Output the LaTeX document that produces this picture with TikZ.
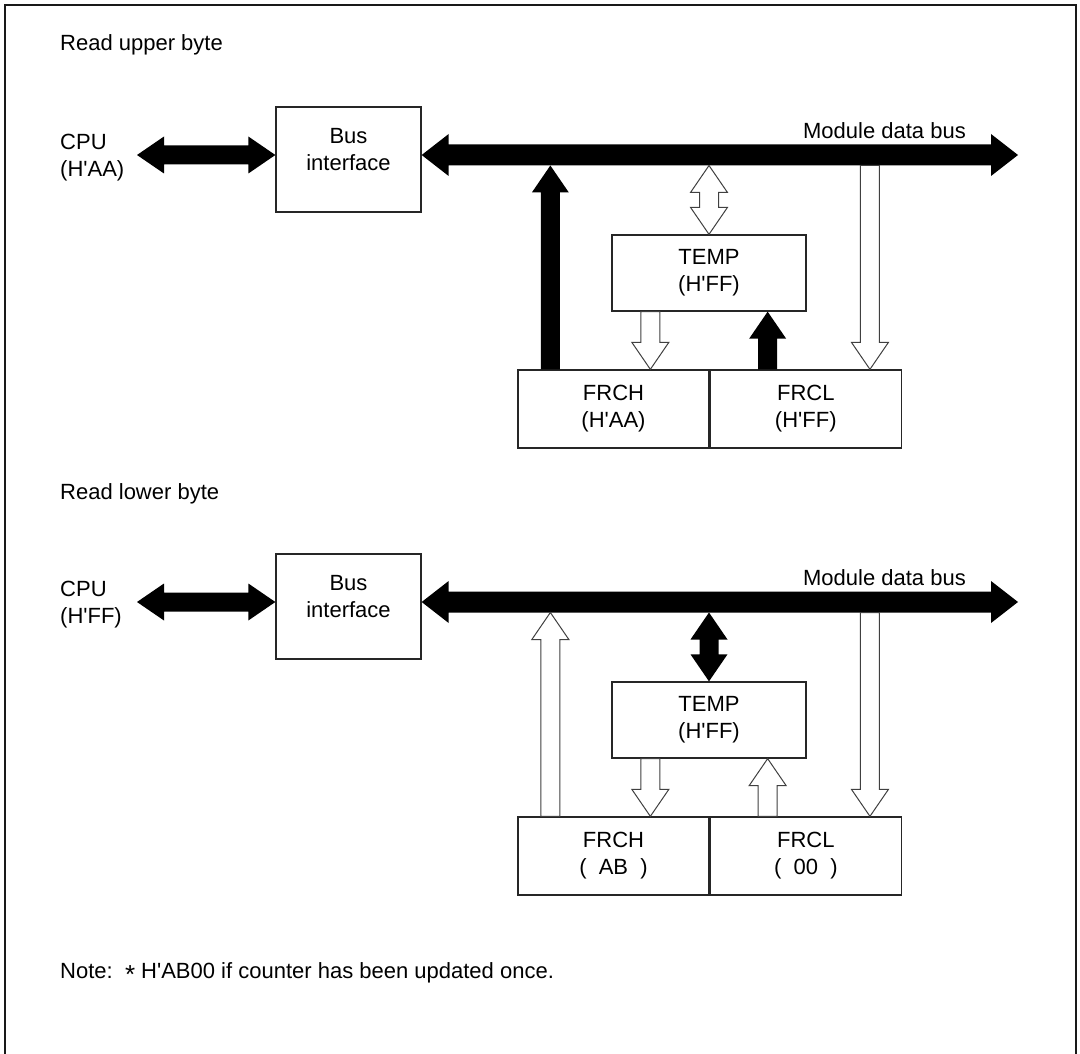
\documentclass[tikz,border=0pt]{standalone}
\usepackage{fontspec}
\setmainfont{Liberation Sans}[Ligatures=TeXOff]
\usetikzlibrary{calc}
\newcommand\arrowlen{27pt}
% single-headed fat arrow: style, half shaft, half head, from, to
\newcommand\fatone[5]{%
  \coordinate (tmpC) at ($(#5)!\arrowlen!(#4)$);
  \path[#1] ($(#4)!#2!90:(#5)$) -- ($(tmpC)!#2!90:(#5)$) -- ($(tmpC)!#3!90:(#5)$) -- (#5)
    -- ($(tmpC)!#3!-90:(#5)$) -- ($(tmpC)!#2!-90:(#5)$) -- ($(#4)!#2!-90:(#5)$) -- cycle;}
% double-headed fat arrow
\newcommand\fattwo[5]{%
  \coordinate (tmpA) at ($(#4)!\arrowlen!(#5)$);
  \coordinate (tmpB) at ($(#5)!\arrowlen!(#4)$);
  \path[#1] (#4) -- ($(tmpA)!#3!90:(#5)$) -- ($(tmpA)!#2!90:(#5)$) -- ($(tmpB)!#2!90:(#5)$)
    -- ($(tmpB)!#3!90:(#5)$) -- (#5) -- ($(tmpB)!#3!-90:(#5)$) -- ($(tmpB)!#2!-90:(#5)$)
    -- ($(tmpA)!#2!-90:(#5)$) -- ($(tmpA)!#3!-90:(#5)$) -- cycle;}
\tikzset{
  txt/.style={font=\fontsize{22}{27}\selectfont, inner sep=0pt},
  box/.style={draw=black!85, line width=1.3pt, align=center, inner sep=0pt,
              font=\fontsize{22}{27}\selectfont},
  solidarrow/.style={fill=black},
  openarrow/.style={fill=white, draw=black!75, line width=1pt, line join=miter},
  frame/.style={draw=black!90, line width=1.8pt}
}
\begin{document}
\begin{tikzpicture}[x=1pt, y=-1pt]
\useasboundingbox (0,0) rectangle (1080,1054);
\draw[frame] (5,1060) -- (5,5) -- (1076,5) -- (1076,1060);

%================ upper =================
\node[txt, anchor=west] (title1) at (60,45) {Read upper byte};
\node[txt, anchor=west, align=left] (cpu1) at (60,158) {CPU\\(H'AA)};
\node[box, minimum width=145pt, minimum height=105pt] (bi1) at (348.5,159.5) {Bus\\interface\\[-6pt]};
\node[txt, anchor=east] (mdb1) at (966,131) {Module data bus};
\node[box, minimum width=194pt, minimum height=76pt] (temp1) at (709,273) {TEMP\\(H'FF)};
\node[box, minimum width=191pt, minimum height=78pt] (frch1) at (613.5,409) {FRCH\\(H'AA)};
\node[box, minimum width=191pt, minimum height=78pt, anchor=west] (frcl1) at (frch1.east) {FRCL\\(H'FF)};

\coordinate (c1L) at (137,155);
\coordinate (c1R) at (bi1.west |- c1L);
\coordinate (b1L) at (bi1.east |- c1L);
\coordinate (b1R) at (1018,155);
\coordinate (bb1) at (0,165.5);
\coordinate (a1s) at ($(frch1.north west)+(33,0)$);
\coordinate (a1e) at (a1s |- bb1);
\coordinate (a2s) at (temp1.north |- bb1);
\coordinate (a2e) at (temp1.north);
\coordinate (a3s) at ($(temp1.south west)+(39,0)$);
\coordinate (a3e) at (a3s |- frch1.north);
\coordinate (a4s) at ($(frcl1.north west)+(58,0)$);
\coordinate (a4e) at (a4s |- temp1.south);
\coordinate (a5e) at ($(frcl1.north east)+(-32,0)$);
\coordinate (a5s) at (a5e |- bb1);

\fattwo{solidarrow}{9.5pt}{18.5pt}{c1L}{c1R}
\fattwo{solidarrow}{10.5pt}{21pt}{b1L}{b1R}
\fatone{solidarrow}{9.5pt}{18.5pt}{a1s}{a1e}
\fattwo{openarrow}{9.5pt}{18.5pt}{a2s}{a2e}
\fatone{openarrow}{9.5pt}{18.5pt}{a3s}{a3e}
\fatone{solidarrow}{9.5pt}{18.5pt}{a4s}{a4e}
\fatone{openarrow}{9.5pt}{18.5pt}{a5s}{a5e}

%================ lower =================
\node[txt, anchor=west] (title2) at (60,494) {Read lower byte};
\node[txt, anchor=west, align=left] (cpu2) at (60,605) {CPU\\(H'FF)};
\node[box, minimum width=145pt, minimum height=105pt] (bi2) at (348.5,606.5) {Bus\\interface\\[-6pt]};
\node[txt, anchor=east] (mdb2) at (966,578) {Module data bus};
\node[box, minimum width=194pt, minimum height=76pt] (temp2) at (709,720) {TEMP\\(H'FF)};
\node[box, minimum width=191pt, minimum height=78pt] (frch2) at (613.5,856) {FRCH\\(\ \ AB\ \ )};
\node[box, minimum width=191pt, minimum height=78pt, anchor=west] (frcl2) at (frch2.east) {FRCL\\(\ \ 00\ \ )};

\coordinate (c2L) at (137,602);
\coordinate (c2R) at (bi2.west |- c2L);
\coordinate (b2L) at (bi2.east |- c2L);
\coordinate (b2R) at (1018,602);
\coordinate (bb2) at (0,612.5);
\coordinate (d1s) at ($(frch2.north west)+(33,0)$);
\coordinate (d1e) at (d1s |- bb2);
\coordinate (d2s) at (temp2.north |- bb2);
\coordinate (d2e) at (temp2.north);
\coordinate (d3s) at ($(temp2.south west)+(39,0)$);
\coordinate (d3e) at (d3s |- frch2.north);
\coordinate (d4s) at ($(frcl2.north west)+(58,0)$);
\coordinate (d4e) at (d4s |- temp2.south);
\coordinate (d5e) at ($(frcl2.north east)+(-32,0)$);
\coordinate (d5s) at (d5e |- bb2);

\fattwo{solidarrow}{9.5pt}{18.5pt}{c2L}{c2R}
\fattwo{solidarrow}{10.5pt}{21pt}{b2L}{b2R}
\fatone{openarrow}{9.5pt}{18.5pt}{d1s}{d1e}
\fattwo{solidarrow}{9.5pt}{18.5pt}{d2s}{d2e}
\fatone{openarrow}{9.5pt}{18.5pt}{d3s}{d3e}
\fatone{openarrow}{9.5pt}{18.5pt}{d4s}{d4e}
\fatone{openarrow}{9.5pt}{18.5pt}{d5s}{d5e}

\node[txt, anchor=west] (note) at (60,973) {Note:\ \ \raisebox{-4.5pt}{\fontsize{26}{27}\selectfont *}\ H'AB00 if counter has been updated once.};
\end{tikzpicture}
\end{document}
